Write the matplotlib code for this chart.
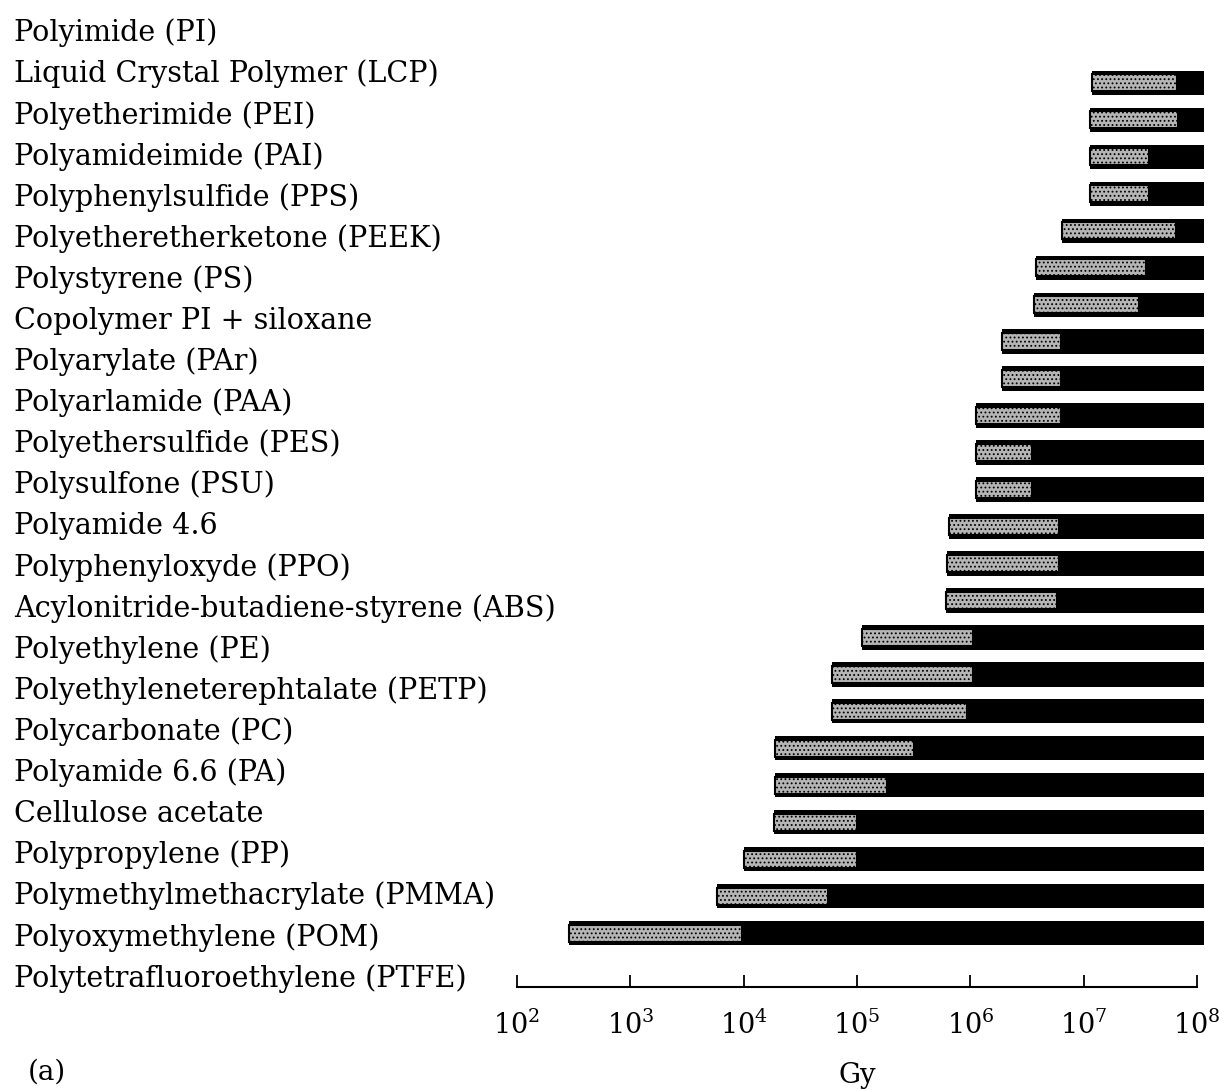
import numpy as np
import matplotlib
matplotlib.use("Agg")
import matplotlib.pyplot as plt

plt.rcParams['font.family'] = ['DejaVu Serif']
plt.rcParams['mathtext.fontset'] = 'dejavuserif'
plt.rcParams['hatch.linewidth'] = 0.8

# polymer names, top to bottom
polymers = [
    'Polyimide (PI)',
    'Liquid Crystal Polymer (LCP)',
    'Polyetherimide (PEI)',
    'Polyamideimide (PAI)',
    'Polyphenylsulfide (PPS)',
    'Polyetheretherketone (PEEK)',
    'Polystyrene (PS)',
    'Copolymer PI + siloxane',
    'Polyarylate (PAr)',
    'Polyarlamide (PAA)',
    'Polyethersulfide (PES)',
    'Polysulfone (PSU)',
    'Polyamide 4.6',
    'Polyphenyloxyde (PPO)',
    'Acylonitride-butadiene-styrene (ABS)',
    'Polyethylene (PE)',
    'Polyethyleneterephtalate (PETP)',
    'Polycarbonate (PC)',
    'Polyamide 6.6 (PA)',
    'Cellulose acetate',
    'Polypropylene (PP)',
    'Polymethylmethacrylate (PMMA)',
    'Polyoxymethylene (POM)',
    'Polytetrafluoroethylene (PTFE)',
]

# dose where damage starts (start of gray part), Gy
onset = [1.19e7, 1.14e7, 1.14e7, 1.14e7, 6.5e6, 3.8e6, 3.65e6, 1.9e6,
         1.9e6, 1.12e6, 1.12e6, 1.12e6, 6.5e5, 6.2e5, 6.1e5, 1.1e5,
         6.0e4, 6.0e4, 1.9e4, 1.9e4, 1.85e4, 1.0e4, 5.8e3, 2.9e2]
# end of gray part (start of black part), Gy
gray_end = [6.7e7, 6.8e7, 3.8e7, 3.8e7, 6.5e7, 3.55e7, 3.1e7, 6.3e6,
            6.3e6, 6.3e6, 3.5e6, 3.5e6, 6.0e6, 6.0e6, 5.8e6, 1.05e6,
            1.05e6, 9.4e5, 3.2e5, 1.85e5, 1.0e5, 1.0e5, 5.6e4, 9.6e3]
upper = 1.15e8

onset = np.array(onset)
gray_end = np.array(gray_end)
rows = np.arange(len(onset))

fig = plt.figure(figsize=(12.19, 10.90), dpi=100)

# labels sit on their own (slightly different) spacing
ax_lab = fig.add_axes([0, 0, 1, 1])
ax_lab.set_xlim(0, 1)
ax_lab.set_ylim(25.72, -0.803)
ax_lab.axis('off')
for i, name in enumerate(polymers):
    ax_lab.text(0.0115, i, name, ha='left', va='center', fontsize=20.6)

ax = fig.add_axes([517 / 1219, 1 - 987 / 1090, 680 / 1219, (987 - 46) / 1090])
ax.patch.set_alpha(0)
ax.barh(rows, upper - onset, left=onset, height=0.66, color='black', clip_on=False)
ax.barh(rows, gray_end - onset, left=onset, height=0.46, facecolor='#b5b5b5',
        edgecolor='black', linewidth=1.5, hatch='....', clip_on=False)

ax.set_xscale('log')
ax.set_xlim(1e2, 1e8)
ax.set_ylim(24.46, -1)
ax.set_xticks([1e2, 1e3, 1e4, 1e5, 1e6, 1e7, 1e8])
ax.minorticks_off()
ax.tick_params(axis='x', direction='in', length=9, width=1.3, pad=17, labelsize=19.5)
ax.set_yticks([])
for s in ['top', 'right', 'left']:
    ax.spines[s].set_visible(False)
ax.spines['bottom'].set_linewidth(1.5)
ax.set_xlabel('Gy', fontsize=20, labelpad=16)

fig.text(28 / 1219, 1 - 1072 / 1090, '(a)', fontsize=20, ha='left', va='center')

fig.savefig('out.png', dpi=100)
